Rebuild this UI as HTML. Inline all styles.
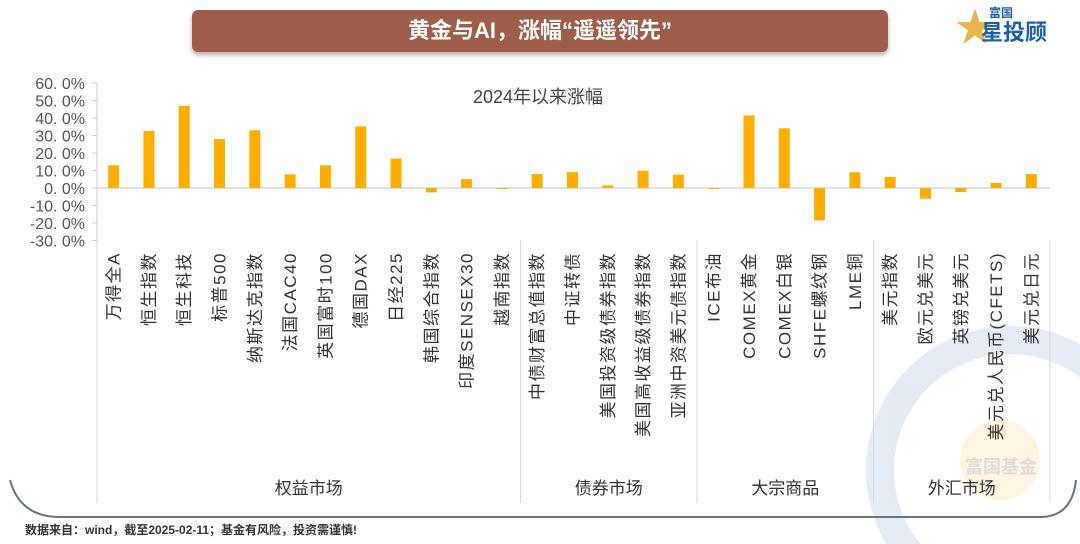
<!DOCTYPE html>
<html><head><meta charset="utf-8"><style>
html,body{margin:0;padding:0;background:#fff;}
body{width:1080px;height:544px;overflow:hidden;position:relative;font-family:"Liberation Sans","Noto Sans CJK SC",sans-serif;}
#banner{position:absolute;left:192px;top:10px;width:696px;height:42px;background:#9e5e49;border-radius:6px;box-shadow:0 3px 4px rgba(0,0,0,0.3);color:#fff;font-weight:bold;font-size:22px;text-align:center;line-height:42px;}
#foot{position:absolute;left:25px;top:522px;font-size:12px;line-height:16px;font-weight:bold;color:#333;}
</style></head><body>
<svg width="1080" height="544" style="position:absolute;left:0;top:0">
  <g opacity="0.25">
    <circle cx="1010" cy="470" r="130" fill="none" stroke="#9bb3cf" stroke-width="28"/>
    <circle cx="1000" cy="460" r="40" fill="#f5d890"/>
    <text x="965" y="473" font-size="18" font-weight="bold" fill="#777">富国基金</text>
  </g>
  <path d="M10,480 Q20,517 60,517 L1040,517 Q1072,517 1076,480" fill="none" stroke="#6a7480" stroke-width="2"/>
  <g id="plot"></g>
</svg>
<div id="banner">黄金与AI，涨幅“遥遥领先”</div>
<div style="position:absolute;left:955px;top:6px;width:110px;height:44px;overflow:hidden;">
  <span style="position:absolute;left:0;top:0;font-size:40px;line-height:44px;color:#e9b64a;">★</span>
  <span style="position:absolute;left:34px;top:0;font-size:12px;line-height:14px;font-weight:bold;color:#1b5fa8;">富国</span>
  <span style="position:absolute;left:26px;top:14px;font-size:22px;line-height:26px;font-weight:bold;color:#1b5fa8;">星投顾</span>
</div>
<div id="foot">数据来自：wind，截至2025-02-11；基金有风险，投资需谨慎!</div>
<script>
const categories=["万得全A","恒生指数","恒生科技","标普500","纳斯达克指数","法国CAC40","英国富时100","德国DAX","日经225","韩国综合指数","印度SENSEX30","越南指数","中债财富总值指数","中证转债","美国投资级债券指数","美国高收益级债券指数","亚洲中资美元债指数","ICE布油","COMEX黄金","COMEX白银","SHFE螺纹钢","LME铜","美元指数","欧元兑美元","英镑兑美元","美元兑人民币(CFETS)","美元兑日元"];
const values=[13,32.6,46.9,28,33,7.8,13,35.2,16.8,-2.5,5.1,-0.4,8,9.1,1.5,9.9,7.6,-0.4,41.5,34.1,-18.5,9,6.3,-6.1,-2.3,2.9,8];
const groups=["权益市场","债券市场","大宗商品","外汇市场"];
const groupSizes=[12,5,5,5];
const ticks=[60,50,40,30,20,10,0,-10,-20,-30];
const NS="http://www.w3.org/2000/svg";
const g=document.getElementById('plot');
const X0=97,X1=1050,Y0=188,PX=1.75;
const step=(X1-X0)/categories.length;
const y=v=>Y0-v*PX;
const xc=i=>X0+step*(i+0.5)-1;
function mk(t,a){const e=document.createElementNS(NS,t);for(const k in a)e.setAttribute(k,a[k]);g.appendChild(e);return e;}
let e=mk('line',{x1:X0,x2:X0,y1:y(60),y2:y(-30),stroke:'#d0d0d0'});

ticks.forEach(t=>{
  const l=mk('line',{x1:X0-5,x2:X0,y1:y(t),y2:y(t),stroke:'#d0d0d0'});
  
  const tx=mk('text',{x:X0-12,y:y(t)+6,'text-anchor':'end','font-size':16,fill:'#555'});
  tx.textContent=t.toFixed(1).replace('.','. ')+'%';
  
});
e=mk('line',{x1:X0,x2:X1,y1:Y0,y2:Y0,stroke:'#d9d9d9','stroke-width':1.5});

values.forEach((v,i)=>{
  const r=mk('rect',{x:xc(i)-5.5,width:11,y:Math.min(y(v),Y0),height:Math.max(Math.abs(v*PX),1),fill:'#ffae00'});
  
  const t=mk('text',{transform:`translate(${xc(i)+6},252) rotate(-90)`,'text-anchor':'end','font-size':17,'letter-spacing':1.5,fill:'#333'});
  t.textContent=categories[i];
  
});
let start=0;
const sep=k=>{const s=mk('line',{x1:X0+step*k,x2:X0+step*k,y1:240,y2:503,stroke:'#d9d9d9'});};
sep(0);
groups.forEach((gn,j)=>{
  const end=start+groupSizes[j];
  sep(end);
  const t=mk('text',{x:X0+step*(start+end)/2,y:494,'text-anchor':'middle','font-size':17,fill:'#333'});
  t.textContent=gn;
  start=end;
});
e=mk('text',{x:538,y:103,'text-anchor':'middle','font-size':18,fill:'#444'});
e.textContent='2024年以来涨幅';

</script>
</body></html>
